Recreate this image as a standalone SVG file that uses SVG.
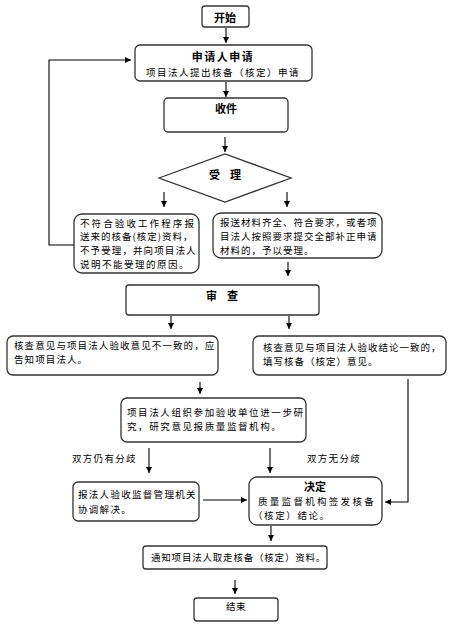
<svg xmlns="http://www.w3.org/2000/svg" width="454" height="636" viewBox="0 0 454 636">
<defs>
<marker id="ah" markerWidth="7" markerHeight="7" refX="6" refY="3.5" orient="auto" markerUnits="userSpaceOnUse">
<path d="M0,0.5 L6,3.5 L0,6.5 Z" fill="#000"/>
</marker>
<style>
.box{fill:#fff;stroke:#333;stroke-width:1.3}
.t{font-family:"Noto Sans CJK SC","Liberation Sans",sans-serif;font-size:9.5px;fill:#000}
.b{font-weight:bold;font-size:11px}
.m{text-anchor:middle}
.c{fill:none;stroke:#000;stroke-width:1.1;marker-end:url(#ah)}
</style>
</defs>
<rect width="454" height="636" fill="#fff"/>
<g id="start"><rect class="box" x="202" y="6" width="47" height="21" rx="3"/><text class="t b m" x="225" y="22">开始</text></g>
<g id="apply"><rect class="box" x="135" y="45" width="177" height="36" rx="5"/><text class="t b m" x="223" y="60.5" letter-spacing="1.5">申请人申请</text><text class="t" x="146" y="75.5" letter-spacing="1.5">项目法人提出核备（核定）申请</text></g>
<g id="receive"><rect class="box" x="164" y="98" width="124" height="34" rx="4"/><text class="t b m" x="226" y="113">收件</text></g>
<g id="accept"><polygon class="box" points="159,178 225,154 291,178 225,202"/><text class="t b m" x="225" y="179" xml:space="preserve">受    理</text></g>
<g id="reject"><rect class="box" x="74" y="214" width="125" height="59" rx="8"/>
<text class="t"><tspan x="80" y="226.5" letter-spacing="2.1">不符合验收工作程序报</tspan><tspan x="80" y="240.4" letter-spacing="1">送来的核备(核定)资料，</tspan><tspan x="80" y="254.3" letter-spacing="1.1">不予受理，并向项目法人</tspan><tspan x="80" y="268.2" letter-spacing="1.5">说明不能受理的原因。</tspan></text></g>
<g id="accepted"><rect class="box" x="213" y="213" width="169" height="45" rx="8"/>
<text class="t" letter-spacing="1"><tspan x="220" y="226">报送材料齐全、符合要求，或者项</tspan><tspan x="220" y="239.9">目法人按照要求提交全部补正申请</tspan><tspan x="220" y="253.8">材料的，予以受理。</tspan></text></g>
<g id="review"><rect class="box" x="126" y="285" width="193" height="30" rx="3"/><text class="t b m" x="222" y="299.5" xml:space="preserve">审    查</text></g>
<g id="disagree"><rect class="box" x="7" y="336" width="211" height="39" rx="6"/>
<text class="t" letter-spacing="1.1"><tspan x="14" y="349">核查意见与项目法人验收意见不一致的，应</tspan><tspan x="14" y="363">告知项目法人。</tspan></text></g>
<g id="agree"><rect class="box" x="253" y="336" width="193" height="39" rx="6"/>
<text class="t" letter-spacing="1"><tspan x="263" y="351">核查意见与项目法人验收结论一致的，</tspan><tspan x="263" y="365">填写核备（核定）意见。</tspan></text></g>
<g id="study"><rect class="box" x="121" y="398" width="185" height="44" rx="6"/>
<text class="t" letter-spacing="1.6"><tspan x="127" y="415.5">项目法人组织参加验收单位进一步研</tspan><tspan x="127" y="430">究，研究意见报质量监督机构。</tspan></text></g>
<g id="coord"><rect class="box" x="73" y="482" width="126" height="39" rx="5"/>
<text class="t" letter-spacing="1.3"><tspan x="78" y="497.5">报法人验收监督管理机关</tspan><tspan x="78" y="512.5">协调解决。</tspan></text></g>
<g id="decide"><rect class="box" x="249" y="477" width="133" height="48" rx="8"/>
<text class="t"><tspan class="b" x="315" y="490.5" text-anchor="middle">决定</tspan><tspan x="258" y="505" letter-spacing="2.3">质量监督机构签发核备</tspan><tspan x="253" y="519" letter-spacing="1.6">（核定）结论。</tspan></text></g>
<g id="notify"><rect class="box" x="143" y="546" width="184" height="23" rx="3"/>
<text class="t" x="151" y="561" letter-spacing="0.8">通知项目法人取走核备（核定）资料。</text></g>
<g id="end"><rect class="box" x="194" y="598" width="84" height="23" rx="3"/><text class="t m" x="236" y="610" letter-spacing="0.5">结束</text></g>
<g id="labels">
<text class="t" x="72" y="462" letter-spacing="1.3">双方仍有分歧</text>
<text class="t" x="307" y="462" letter-spacing="1.3">双方无分歧</text>
</g>
<g id="connectors">
<path class="c" d="M226,28 V43"/>
<path class="c" d="M226,82 V97"/>
<path class="c" d="M225,137 V152"/>
<path class="c" d="M164,192 V207"/>
<path class="c" d="M287,192 V207"/>
<path class="c" d="M74,245 H49 V60 H131"/>
<path class="c" d="M288,262 V276"/>
<path class="c" d="M171,316 V329"/>
<path class="c" d="M289,316 V329"/>
<path class="c" d="M200,382 V394"/>
<path class="c" d="M408,379 V502 H385"/>
<path class="c" d="M149,448 V473"/>
<path class="c" d="M270,448 V473"/>
<path class="c" d="M203,500 H247"/>
<path class="c" d="M271,526 V541"/>
<path class="c" d="M235,580 V594"/>
</g>
</svg>
